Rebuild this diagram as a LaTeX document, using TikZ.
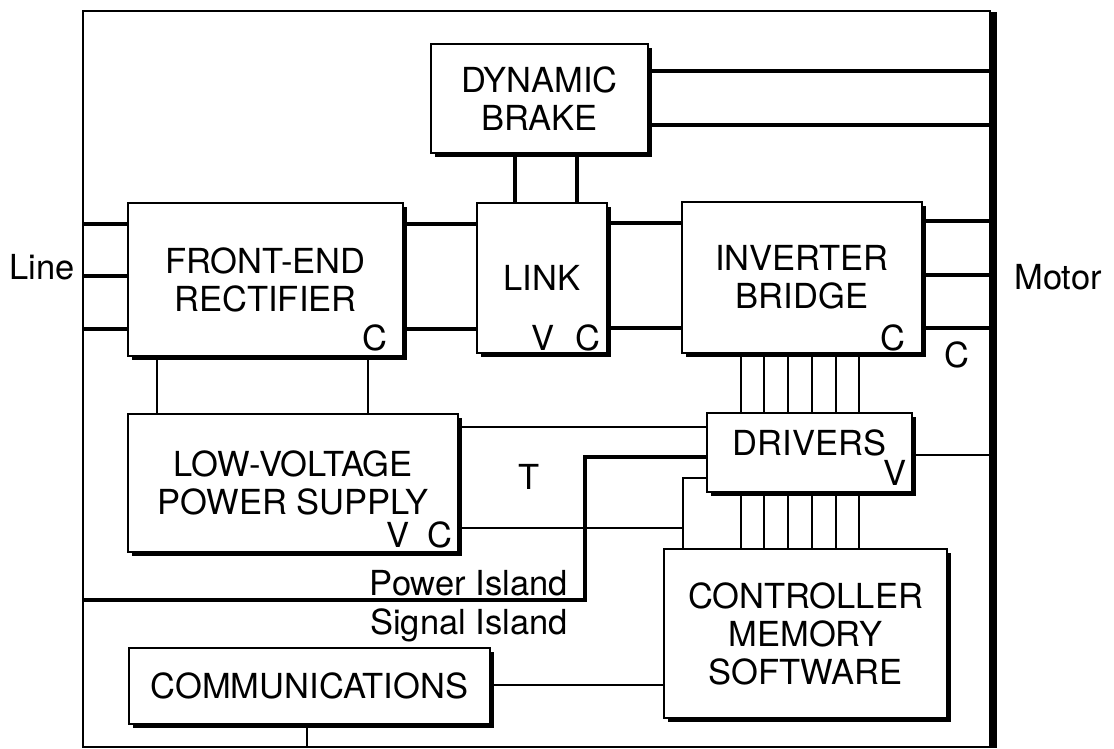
\documentclass[tikz,border=0pt]{standalone}
\usepackage{fontspec}
\setmainfont{TeX Gyre Heros}
\usetikzlibrary{shadows}

\begin{document}
\begin{tikzpicture}[x=1pt, y=-1pt,
	every node/.style={font=\fontsize{34.5}{38}\selectfont, inner sep=0pt},
	blk/.style={draw, line width=1.3pt, fill=white, align=center, drop shadow={shadow xshift=4pt, shadow yshift=-4pt, fill=black, opacity=1}},
	bus/.style={line width=4.2pt},
	sig/.style={line width=1.1pt}]
	\useasboundingbox (0,0) rectangle (1114,749);
	% enclosure
	\node[draw, line width=1.2pt, minimum width=907pt, minimum height=736pt] (frm) at (536.5,379) {};
	\draw[line width=6pt] ([xshift=3pt,yshift=-2pt]frm.north east) -- ([xshift=3pt]frm.south east);
	% blocks
	\node[blk, minimum width=275pt, minimum height=153pt] (fer) at (265.5,279.5) {FRONT-END\\RECTIFIER};
	\node[blk, minimum width=130pt, minimum height=150pt] (link) at (542,278) {LINK};
	\node[blk, minimum width=217pt, minimum height=109pt] (db) at (539.5,98.5) {DYNAMIC\\BRAKE};
	\node[blk, minimum width=240pt, minimum height=151pt] (inv) at (802,277.5) {INVERTER\\BRIDGE};
	\node[blk, minimum width=330pt, minimum height=138pt] (lvps) at (293,483) {LOW-VOLTAGE\\POWER SUPPLY};
	\node[blk, minimum width=205pt, minimum height=79pt, label={[yshift=10pt]center:DRIVERS}] (drv) at (809.5,452.5) {};
	\node[blk, minimum width=283pt, minimum height=169pt] (ctrl) at (805.5,633.5) {CONTROLLER\\MEMORY\\SOFTWARE};
	\node[blk, minimum width=361pt, minimum height=76pt] (comm) at (309.5,686) {COMMUNICATIONS};
	% small tags
	\node (ferC) at (375,338) {C};
	\node (linkV) at (543,338) {V};
	\node (linkC) at (588,338) {C};
	\node (invC) at (893,338) {C};
	\node (motC) at (957,355) {C};
	\node (lvpsV) at (398,535) {V};
	\node (lvpsC) at (440,535) {C};
	\node (drvV) at (895,473) {V};
	\node (tLbl) at (529,477) {T};
	\node (lineLbl) at (42,267) {Line};
	\node (motorLbl) at (1058,277) {Motor};
	\node[anchor=base east] (pwrIsl) at (568,595) {Power Island};
	\node[anchor=base east] (sigIsl) at (568,634) {Signal Island};
	% power connections
	\foreach \y in {224,276,329} \draw[bus] (frm.west |- 0,\y) -- (fer.west |- 0,\y);
	\foreach \y in {224,329} \draw[bus] (fer.east |- 0,\y) -- (link.west |- 0,\y);
	\foreach \x in {515,577} \draw[bus] (db.south -| \x,0) -- (link.north -| \x,0);
	\foreach \y in {71,125} \draw[bus] (db.east |- 0,\y) -- (frm.east |- 0,\y);
	\foreach \y in {223,328} \draw[bus] (link.east |- 0,\y) -- (inv.west |- 0,\y);
	\foreach \y in {221,275,328} \draw[bus] (inv.east |- 0,\y) -- (frm.east |- 0,\y);
	% island boundary
	\draw[bus] (drv.west |- 0,457) -| (585,600) -- (frm.west |- 0,600);
	% signal connections
	\foreach \x in {157,368} \draw[sig] (fer.south -| \x,0) -- (lvps.north -| \x,0);
	\draw[sig] (lvps.east |- 0,427) -- (drv.west |- 0,427);
	\coordinate (tj) at (683,528);
	\draw[sig] (lvps.east |- 0,528) -- (tj);
	\draw[sig] (drv.west |- 0,478) -| (ctrl.north -| tj);
	\foreach \x in {741,764,788,812,836,859} {
		\draw[sig] (inv.south -| \x,0) -- (drv.north -| \x,0);
		\draw[sig] (drv.south -| \x,0) -- (ctrl.north -| \x,0);
	}
	\draw[sig] (drv.east |- 0,455) -- (frm.east |- 0,455);
	\draw[sig] (comm.east |- 0,685) -- (ctrl.west |- 0,685);
	\draw[sig] (comm.south -| 307,0) -- (frm.south -| 307,0);
\end{tikzpicture}
\end{document}
